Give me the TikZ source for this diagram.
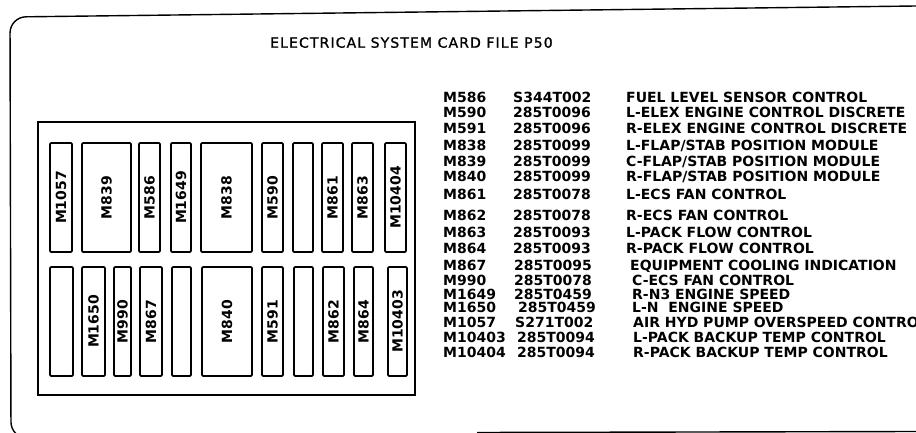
\documentclass[tikz,border=0pt]{standalone}
\usepackage{fontspec}
\setmainfont{DejaVu Sans}
\usetikzlibrary{positioning}

\begin{document}
\begin{tikzpicture}[x=1pt,y=-1pt,
    every node/.style={font=\fontsize{14}{16}\selectfont\bfseries,inner sep=0pt},
    card/.style={draw,line width=1.8pt,rounded corners=1.2pt,rotate=90},
    row/.style={anchor=base west}]
  \useasboundingbox (0,0) rectangle (916,433);
  \draw[line width=1.4pt,rounded corners=16] (916,6) -- (10,17) -- (11,438) -- (60,438);
  \draw[line width=1.4pt] (477,432.5) -- (916,431.5);
  \draw[line width=1.3pt] (38,122) rectangle (415,395);
  \node[row,font=\fontsize{14}{16}\selectfont\addfontfeature{LetterSpace=8,FakeBold=1.2}] (title) at (270,47.7) {ELECTRICAL SYSTEM CARD FILE P50};
  \foreach \a/\b/\t [count=\i] in {50/72/M1057,82/131/M839,139/160/M586,171/191/M1649,201/252/M838,
      262/283/M590,293/313/{},322/343/M861,352/373/M863,385/406/M10404}
    \node[card,minimum width=109,minimum height=\b-\a] (top\i) at ({(\a+\b)/2},197.5) {\t};
  \foreach \a/\b/\t [count=\i] in {50/73/{},82/105/M1650,114/131/M990,140/162/M867,172/191/{},202/252/M840,
      262/283/M591,294/313/{},323/344/M862,354/373/M864,388/407/M10403}
    \node[card,minimum width=109,minimum height=\b-\a] (bot\i) at ({(\a+\b)/2},321.5) {\t};
  \foreach \y/\xp/\xd/\m/\p/\d [count=\i] in {
      98/513/626/M586/S344T002/FUEL LEVEL SENSOR CONTROL,
      113/513/626/M590/285T0096/L-ELEX ENGINE CONTROL DISCRETE,
      129/513/626/M591/285T0096/R-ELEX ENGINE CONTROL DISCRETE,
      146/513/626/M838/285T0099/{L-FLAP/STAB POSITION MODULE},
      162/513/626/M839/285T0099/{C-FLAP/STAB POSITION MODULE},
      177/513/626/M840/285T0099/{R-FLAP/STAB POSITION MODULE},
      195/513/626/M861/285T0078/L-ECS FAN CONTROL,
      215/513/626/M862/285T0078/R-ECS FAN CONTROL,
      232/513/626/M863/285T0093/L-PACK FLOW CONTROL,
      248/513/626/M864/285T0093/R-PACK FLOW CONTROL,
      265/514/630/M867/285T0095/EQUIPMENT COOLING INDICATION,
      280/514/632/M990/285T0078/C-ECS FAN CONTROL,
      294/514/632/M1649/285T0459/R-N3 ENGINE SPEED,
      307/518/632/M1650/285T0459/L-N\ \ ENGINE SPEED,
      322/515/633/M1057/S271T002/AIR HYD PUMP OVERSPEED CONTROL,
      337/517/633/M10403/285T0094/L-PACK BACKUP TEMP CONTROL,
      352/517/633/M10404/285T0094/R-PACK BACKUP TEMP CONTROL} {
    \node[row] (mod\i) at (443,\y+5) {\m};
    \node[row] (part\i) at (\xp,\y+5) {\p};
    \node[row] (desc\i) at (\xd,\y+5) {\d};
  }
\end{tikzpicture}
\end{document}
